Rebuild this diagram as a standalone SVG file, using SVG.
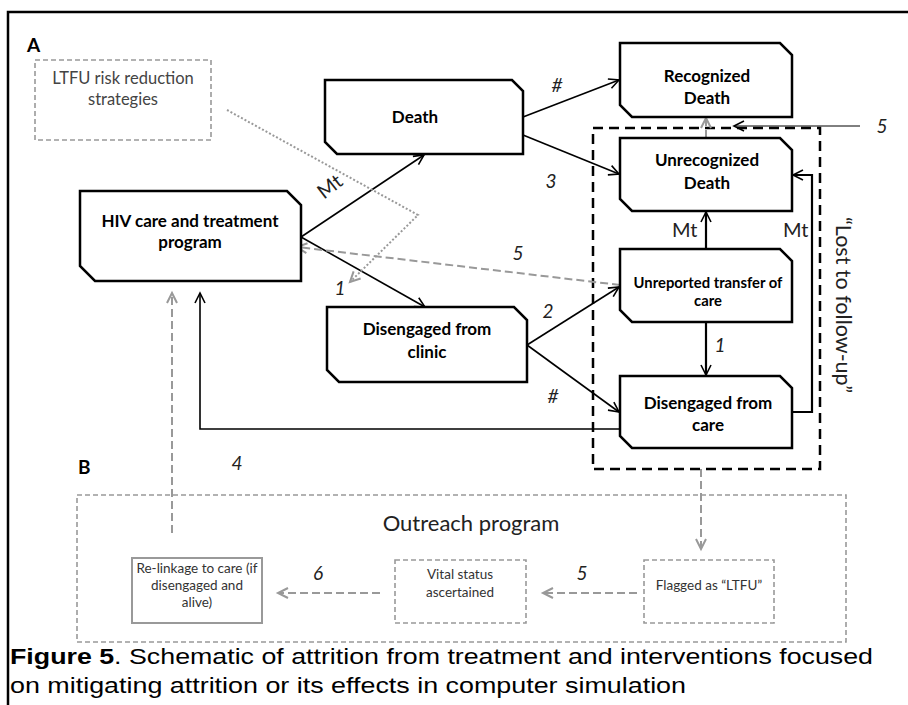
<svg xmlns="http://www.w3.org/2000/svg" width="908" height="705" viewBox="0 0 908 705">
<style>
.node{fill:#fff;stroke:#000;stroke-width:2.5}
.nt{font-family:Lato,"Open Sans",sans-serif;font-weight:bold;font-size:17px;fill:#000;text-anchor:middle}
.nts{font-family:Lato,"Open Sans",sans-serif;font-weight:bold;font-size:14.8px;fill:#000;text-anchor:middle}
.rt{font-family:Lato,"Open Sans",sans-serif;font-size:16.5px;fill:#444;text-anchor:middle}
.st{font-family:Lato,"Open Sans",sans-serif;font-size:13.5px;fill:#333;text-anchor:middle}
.lab{font-family:Lato,"Open Sans",sans-serif;font-style:italic;font-size:19px;fill:#222}
.mt{font-family:Lato,"Open Sans",sans-serif;font-size:20px;fill:#222}
.blk{fill:none;stroke:#000;stroke-width:1.6}
.blk2{fill:none;stroke:#000;stroke-width:2.2}
.gd{fill:none;stroke:#999;stroke-width:2;stroke-dasharray:8 4}
.gdot{fill:none;stroke:#999;stroke-width:2;stroke-dasharray:2 2}
.gbox{fill:none;stroke:#999;stroke-width:1.6;stroke-dasharray:5 3}
.cap{font-family:"Liberation Sans",Arial,sans-serif;font-size:22px;fill:#000}
</style>
<defs>
<marker id="ab" markerUnits="userSpaceOnUse" markerWidth="14" markerHeight="14" refX="11" refY="6" orient="auto">
<path d="M1,1 L11,6 L1,11" fill="none" stroke="#000" stroke-width="1.6"/>
</marker>
<marker id="ag" markerUnits="userSpaceOnUse" markerWidth="14" markerHeight="14" refX="11" refY="6" orient="auto">
<path d="M1,1 L11,6 L1,11" fill="none" stroke="#999" stroke-width="2"/>
</marker>
</defs>
<rect width="908" height="705" fill="#fff"/>
<path d="M8,705 V12 H908" fill="none" stroke="#000" stroke-width="2.5"/>
<text x="27" y="52" font-family="Lato,'Open Sans',sans-serif" font-weight="bold" font-size="19">A</text>
<text x="78" y="474" font-family="Lato,'Open Sans',sans-serif" font-weight="bold" font-size="19">B</text>

<g id="ltfu-box">
<rect x="35" y="60" width="176" height="80" class="gbox"/>
<text x="123" y="84" class="rt">LTFU risk reduction</text>
<text x="123" y="105" class="rt">strategies</text>
</g>
<g id="lost-box">
<rect x="593" y="128" width="227" height="341" fill="none" stroke="#000" stroke-width="2.5" stroke-dasharray="10 6"/>
<text transform="translate(836,305) rotate(90)" font-family="Lato,'Open Sans',sans-serif" font-size="21.5" text-anchor="middle" fill="#222">“Lost to follow-up”</text>
</g>

<g id="connectors">
<path d="M301,237 L424,155" class="blk" marker-end="url(#ab)"/>
<path d="M301,237 L425,307" class="blk" marker-end="url(#ab)"/>
<path d="M523,117 L619,80" class="blk" marker-end="url(#ab)"/>
<path d="M523,135 L619,174" class="blk" marker-end="url(#ab)"/>
<path d="M706,249 V212" class="blk2" marker-end="url(#ab)"/>
<path d="M706,322 V375" class="blk2" marker-end="url(#ab)"/>
<path d="M792,412 H812 V175 H793" class="blk2" marker-end="url(#ab)"/>
<path d="M527,345 L619,287" class="blk" marker-end="url(#ab)"/>
<path d="M527,345 L619,412" class="blk" marker-end="url(#ab)"/>
<path d="M620,429 H200 V293" class="blk" marker-end="url(#ab)"/>
<path d="M860,126 H734" fill="none" stroke="#000" stroke-width="1" marker-end="url(#ab)"/>
<path d="M706,138 V118" class="gd" marker-end="url(#ag)"/>
<path d="M620,285 L297,247" class="gd" marker-end="url(#ag)"/>
<path d="M227,110 L418,215 L350,282" class="gdot" marker-end="url(#ag)"/>
<path d="M172,533 V293" class="gd" marker-end="url(#ag)"/>
<path d="M701,469 V549" class="gd" marker-end="url(#ag)"/>
<path d="M637,593 H543" class="gd" marker-end="url(#ag)"/>
<path d="M380,593 H278" class="gd" marker-end="url(#ag)"/>
<text transform="translate(334,192) rotate(-38)" class="mt" text-anchor="middle">Mt</text>
<text x="557" y="92" class="lab" text-anchor="middle">#</text>
<text x="551" y="188" class="lab" text-anchor="middle">3</text>
<text x="882" y="133" class="lab" text-anchor="middle">5</text>
<text x="518" y="260" class="lab" text-anchor="middle">5</text>
<text x="548" y="318" class="lab" text-anchor="middle">2</text>
<text x="553" y="403" class="lab" text-anchor="middle">#</text>
<text x="720" y="352" class="lab" text-anchor="middle">1</text>
<text x="340" y="295" class="lab" text-anchor="middle">1</text>
<text x="237" y="470" class="lab" text-anchor="middle">4</text>
<text x="672" y="237" class="mt">Mt</text>
<text x="783" y="237" class="mt">Mt</text>
<text x="318" y="580" class="lab" text-anchor="middle">6</text>
<text x="582" y="580" class="lab" text-anchor="middle">5</text>
</g>

<g id="hiv">
<path d="M80,191 H287 L301,205 V281 H95 L80,266 Z" class="node"/>
<text x="190" y="227" class="nt">HIV care and treatment</text>
<text x="190" y="248" class="nt">program</text>
</g>
<g id="death">
<path d="M325,80 H512 L523,91 V154 H337 L325,142 Z" class="node"/>
<text x="415" y="123" class="nt">Death</text>
</g>
<g id="recognized-death">
<path d="M620,43 H780 L792,55 V117 H632 L620,105 Z" class="node"/>
<text x="707" y="82" class="nt">Recognized</text>
<text x="707" y="104" class="nt">Death</text>
</g>
<g id="unrecognized-death">
<path d="M620,138 H780 L792,150 V211 H632 L620,199 Z" class="node"/>
<text x="707" y="166" class="nt">Unrecognized</text>
<text x="707" y="189" class="nt">Death</text>
</g>
<g id="unreported-transfer">
<path d="M620,249 H780 L792,261 V322 H632 L620,310 Z" class="node"/>
<text x="708" y="288" class="nts">Unreported transfer of</text>
<text x="708" y="306" class="nts">care</text>
</g>
<g id="disengaged-care">
<path d="M620,376 H780 L792,388 V448 H632 L620,436 Z" class="node"/>
<text x="708" y="409" class="nt">Disengaged from</text>
<text x="708" y="431" class="nt">care</text>
</g>
<g id="disengaged-clinic">
<path d="M327,307 H514 L527,320 V382 H339 L327,370 Z" class="node"/>
<text x="427" y="335" class="nt">Disengaged from</text>
<text x="427" y="358" class="nt">clinic</text>
</g>

<g id="outreach">
<rect x="77" y="495" width="769" height="147" class="gbox"/>
<text x="471" y="531" font-family="Lato,'Open Sans',sans-serif" font-size="22" text-anchor="middle" fill="#222">Outreach program</text>
</g>
<g id="relinkage">
<rect x="132" y="558" width="130" height="65" fill="none" stroke="#999" stroke-width="2"/>
<text x="197" y="573" class="st">Re-linkage to care (if</text>
<text x="197" y="590" class="st">disengaged and</text>
<text x="197" y="607" class="st">alive)</text>
</g>
<g id="vital-status">
<rect x="395" y="560" width="131" height="63" class="gbox"/>
<text x="460" y="579" class="st">Vital status</text>
<text x="460" y="597" class="st">ascertained</text>
</g>
<g id="flagged">
<rect x="644" y="560" width="130" height="63" class="gbox"/>
<text x="709" y="590" class="st">Flagged as “LTFU”</text>
</g>

<text x="10" y="664" class="cap" textLength="863" lengthAdjust="spacingAndGlyphs"><tspan font-weight="bold">Figure 5</tspan>. Schematic of attrition from treatment and interventions focused</text>
<text x="10" y="693" class="cap" textLength="676" lengthAdjust="spacingAndGlyphs">on mitigating attrition or its effects in computer simulation</text>
</svg>
